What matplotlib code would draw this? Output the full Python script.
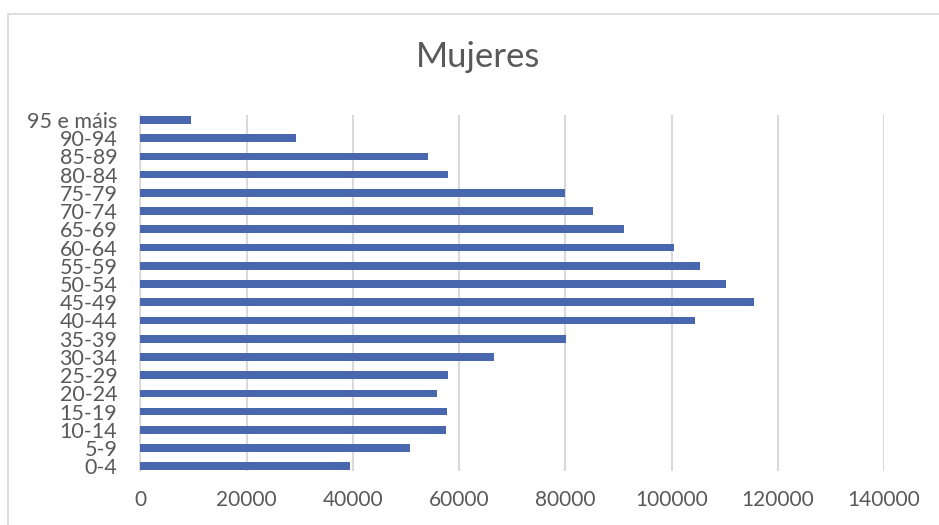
import matplotlib
matplotlib.use("Agg")
import matplotlib.pyplot as plt
from matplotlib.patches import Rectangle

categories = ["0-4", "5-9", "10-14", "15-19", "20-24", "25-29", "30-34", "35-39",
              "40-44", "45-49", "50-54", "55-59", "60-64", "65-69", "70-74",
              "75-79", "80-84", "85-89", "90-94", "95 e máis"]
values = [39400, 50700, 57500, 57800, 55800, 57900, 66500, 80100,
          104400, 115600, 110300, 105400, 100400, 91100, 85300,
          80000, 58000, 54200, 29300, 9500]
xticks = [0, 20000, 40000, 60000, 80000, 100000, 120000, 140000]
title = "Mujeres"

plt.rcParams['font.family'] = ['Lato', 'DejaVu Sans']

fig = plt.figure(figsize=(9.39, 5.25), dpi=100)
fig.patches.append(Rectangle((8/939, -0.1), 2.0, (525-14)/525 + 0.1,
                             transform=fig.transFigure, fill=False,
                             edgecolor="#D9D9D9", linewidth=1.2))
ax = fig.add_axes([140.3/939, 54.3/525, (884-140.3)/939, (470.7-115)/525])

ypos = list(range(len(categories)))
ax.barh(ypos, values, height=0.42, color="#4967AE", zorder=3)

ax.set_xlim(0, 140000)
ax.set_ylim(-0.24, len(categories) - 1 + 0.27)
ax.set_xticks(xticks)
ax.set_xticklabels([str(v) for v in xticks])
ax.set_yticks(ypos)
ax.set_yticklabels(categories)
ax.grid(axis="x", color="#D9D9D9", linewidth=1.5, zorder=0)
ax.grid(axis="y", visible=False)
for s in ["top", "right", "bottom"]:
    ax.spines[s].set_visible(False)
ax.spines["left"].set_color("#D9D9D9")
ax.spines["left"].set_linewidth(1.2)
ax.tick_params(axis="x", length=0, pad=14, labelsize=15, labelcolor="#595959")
ax.tick_params(axis="y", length=0, pad=16.5, labelsize=15.5, labelcolor="#595959")

fig.text(478/939, 1 - 57/525, title, ha="center", va="center",
         fontsize=25, color="#595959", fontweight="normal")

fig.savefig("out.png", dpi=100)
